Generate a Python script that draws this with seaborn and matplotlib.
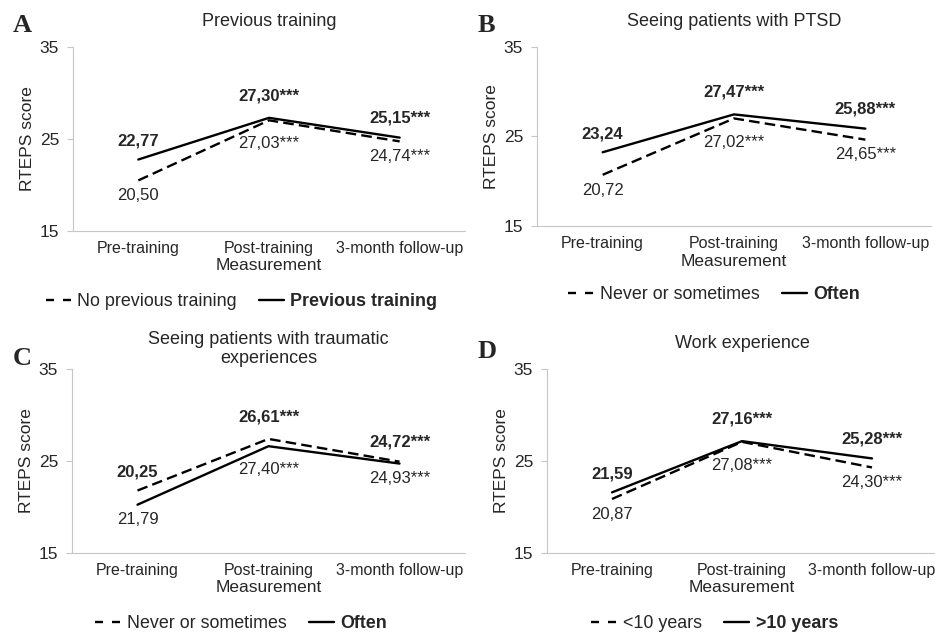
import matplotlib.pyplot as plt
import numpy as np
import pandas as pd
import seaborn as sns

# measurement points
timepoints = ['Pre-training', 'Post-training', '3-month follow-up']
stars = ['', '***', '***']

# A - previous training
a_title = 'Previous training'
a_groups = ['No previous training', 'Previous training']
a_dashed = [20.50, 27.03, 24.74]
a_solid = [22.77, 27.30, 25.15]

# B - seeing patients with PTSD
b_title = 'Seeing patients with PTSD'
b_groups = ['Never or sometimes', 'Often']
b_dashed = [20.72, 27.02, 24.65]
b_solid = [23.24, 27.47, 25.88]

# C - seeing patients with traumatic experiences
c_title = 'Seeing patients with traumatic\nexperiences'
c_groups = ['Never or sometimes', 'Often']
c_dashed = [21.79, 27.40, 24.93]
c_solid = [20.25, 26.61, 24.72]

# D - work experience
d_title = 'Work experience'
d_groups = ['<10 years', '>10 years']
d_dashed = [20.87, 27.08, 24.30]
d_solid = [21.59, 27.16, 25.28]

sns.set_style("white")
plt.rcParams['font.family'] = ['Liberation Sans', 'DejaVu Sans']

fig = plt.figure(figsize=(9.35, 6.37), dpi=100)
W, H = 935, 637

# axes boxes in pixels: left, right, top, bottom
boxes = [(73, 465, 47, 231), (537, 931, 47, 226), (72, 465, 369, 553), (547, 937, 369, 553)]
panels = [
    ('A', a_title, a_groups, a_dashed, a_solid, 15, 0.43),
    ('B', b_title, b_groups, b_dashed, b_solid, 15, 0.45),
    ('C', c_title, c_groups, c_dashed, c_solid, 4, 0.43),
    ('D', d_title, d_groups, d_dashed, d_solid, 15, 0.43),
]
letter_pos = [(13, 32), (478, 32), (13, 365), (478, 358)]

grey = '#c6c6c6'
up_off = [13, 16, 14]
down_off = [-11, -17, -11]

def fmt(v, s):
    return f"{v:.2f}".replace('.', ',') + s

for (l, r, t, b), (letter, title, groups, dashed, solid, tpad, legx), (lx, ly) in zip(boxes, panels, letter_pos):
    ax = fig.add_axes([l / W, 1 - b / H, (r - l) / W, (b - t) / H])
    df = pd.DataFrame({
        'x': list(range(3)) * 2,
        'RTEPS score': dashed + solid,
        'group': [groups[0]] * 3 + [groups[1]] * 3,
    })
    sns.lineplot(data=df, x='x', y='RTEPS score', style='group', style_order=groups,
                 dashes={groups[0]: (4.5, 2.2), groups[1]: ''}, color='black',
                 linewidth=1.7, ax=ax)

    ax.set_xlim(-0.5, 2.5)
    ax.set_ylim(15, 35)
    ax.set_yticks([15, 25, 35])
    ax.set_xticks(range(3))
    ax.set_xticklabels(timepoints)
    ax.set_xticks([0.5, 1.5, 2.5], minor=True)
    ax.tick_params(axis='x', which='major', length=0, pad=7, labelsize=11.5)
    ax.tick_params(axis='x', which='minor', direction='in', length=4, color=grey, width=0.8)
    ax.tick_params(axis='y', length=4, color=grey, width=0.8, pad=6, labelsize=12.5, left=True)
    sns.despine(ax=ax)
    for sp in ['left', 'bottom']:
        ax.spines[sp].set_color(grey)
        ax.spines[sp].set_linewidth(0.8)
    ax.set_xlabel('Measurement', fontsize=12.5, labelpad=2)
    ax.set_ylabel('RTEPS score', fontsize=12.5, labelpad=3)
    ax.set_title(title, fontsize=13, pad=tpad)

    # value labels: bold (solid group) above, regular (dashed group) below
    for i in range(3):
        hi = max(dashed[i], solid[i])
        lo = min(dashed[i], solid[i])
        ax.annotate(fmt(solid[i], stars[i]), (i, hi), xytext=(0, up_off[i]), textcoords='offset points',
                    ha='center', va='center', fontsize=12, fontweight='bold')
        ax.annotate(fmt(dashed[i], stars[i]), (i, lo), xytext=(0, down_off[i]), textcoords='offset points',
                    ha='center', va='center', fontsize=12)

    handles, labels = ax.get_legend_handles_labels()
    keep = [(h, lb) for h, lb in zip(handles, labels) if lb in groups]
    leg = ax.legend([k[0] for k in keep], [k[1] for k in keep], loc='center',
                    bbox_to_anchor=(legx, -0.385), ncol=2, frameon=False, fontsize=12.9,
                    handlelength=1.4, handletextpad=0.35, columnspacing=1.25)
    for h in leg.legend_handles:
        h.set_linewidth(1.7)
        h.set_color('black')
    leg.legend_handles[0].set_dashes((3.4, 3.8))
    leg.get_texts()[1].set_fontweight('bold')

    fig.text(lx / W, 1 - ly / H, letter, fontsize=19, fontweight='bold',
             family='Liberation Serif', ha='left', va='baseline')

fig.savefig('out.png', dpi=100)
